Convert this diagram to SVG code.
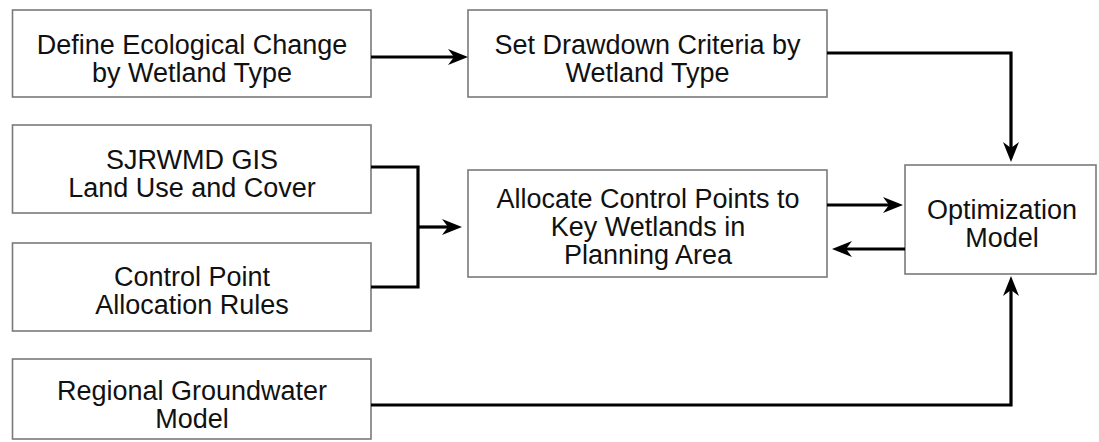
<svg xmlns="http://www.w3.org/2000/svg" width="1099" height="442" viewBox="0 0 1099 442">
<defs>
<style>
.box{fill:#fff;stroke:#7a7a7a;stroke-width:1.6}
.lbl{font-family:"Liberation Sans",Arial,sans-serif;font-size:27px;fill:#111;text-anchor:middle}
.con{fill:none;stroke:#000;stroke-width:3.2;stroke-linejoin:miter}
.arr{marker-end:url(#ah)}
</style>
<marker id="ah" viewBox="0 0 20 16" refX="6" refY="8" markerWidth="20" markerHeight="16" markerUnits="userSpaceOnUse" orient="auto">
<path d="M0,0 L20,8 L0,16 L6,8 z" fill="#000"/>
</marker>
</defs>
<rect width="1099" height="442" fill="#fff"/>
<g id="n1">
<rect class="box" x="12.5" y="10" width="358.5" height="87"/>
<text class="lbl" x="192" y="54">Define Ecological Change</text>
<text class="lbl" x="192" y="82">by Wetland Type</text>
</g>
<g id="n2">
<rect class="box" x="468" y="10" width="359" height="87"/>
<text class="lbl" x="647.5" y="54">Set Drawdown Criteria by</text>
<text class="lbl" x="647.5" y="82">Wetland Type</text>
</g>
<g id="n3">
<rect class="box" x="12.5" y="125" width="358.5" height="88"/>
<text class="lbl" x="192" y="169">SJRWMD GIS</text>
<text class="lbl" x="192" y="197">Land Use and Cover</text>
</g>
<g id="n4">
<rect class="box" x="12.5" y="243" width="358.5" height="88"/>
<text class="lbl" x="192" y="286">Control Point</text>
<text class="lbl" x="192" y="314">Allocation Rules</text>
</g>
<g id="n5">
<rect class="box" x="12.5" y="359" width="358.5" height="80"/>
<text class="lbl" x="192" y="400">Regional Groundwater</text>
<text class="lbl" x="192" y="428">Model</text>
</g>
<g id="n6">
<rect class="box" x="468" y="170" width="359" height="107"/>
<text class="lbl" x="648" y="208">Allocate Control Points to</text>
<text class="lbl" x="648" y="236">Key Wetlands in</text>
<text class="lbl" x="648" y="264">Planning Area</text>
</g>
<g id="n7">
<rect class="box" x="905" y="165" width="191" height="109"/>
<text class="lbl" x="1002" y="219">Optimization</text>
<text class="lbl" x="1002" y="247">Model</text>
</g>
<g id="connectors">
<path class="con arr" d="M371,57 L454,57"/>
<path class="con arr" d="M827,53 L1011,53 L1011,148"/>
<path class="con" d="M371,167 L418,167 L418,287 L371,287"/>
<path class="con arr" d="M418,227 L448,227"/>
<path class="con arr" d="M827,205 L889,205"/>
<path class="con arr" d="M905,249 L846,249"/>
<path class="con arr" d="M371,405 L1011,405 L1011,290"/>
</g>
</svg>
